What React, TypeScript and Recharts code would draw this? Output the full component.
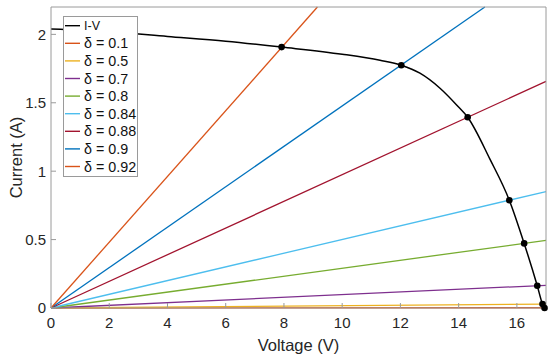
import React from 'react';
import { ComposedChart, Line, Scatter, XAxis, YAxis, Legend } from 'recharts';

const xTicks = [0, 2, 4, 6, 8, 10, 12, 14, 16];
const yTicks = [0, 0.5, 1, 1.5, 2];

// I-V characteristic
const ivVoltage = [0, 2, 4, 6, 7.92, 10, 11.3, 12.03, 12.67, 13.36, 13.93, 14.31, 15.07, 15.74, 16.25, 16.7, 16.88, 16.95];
const ivCurrent = [2.04, 2.02, 1.985, 1.95, 1.907, 1.855, 1.81, 1.774, 1.716, 1.606, 1.484, 1.394, 1.09, 0.788, 0.472, 0.163, 0.029, 0];

// load lines for each duty cycle (from origin to end point)
const dutyLabels = ['δ = 0.1', 'δ = 0.5', 'δ = 0.7', 'δ = 0.8', 'δ = 0.84', 'δ = 0.88', 'δ = 0.9', 'δ = 0.92'];
const dutyColors = ['#D95319', '#EDB120', '#7E2F8E', '#77AC30', '#4DBEEE', '#A2142F', '#0072BD', '#D95319'];
const dutyEndVoltage = [17, 17, 17, 17, 17, 17, 14.9, 9.15];
const dutyEndCurrent = [0.002, 0.029, 0.166, 0.494, 0.851, 1.656, 2.2, 2.2];

// operating points
const opVoltage = [16.95, 16.88, 16.7, 16.25, 15.74, 14.31, 12.03, 7.92];
const opCurrent = [0, 0.029, 0.163, 0.472, 0.788, 1.394, 1.774, 1.907];

const ivData = ivVoltage.map((v, k) => ({ v, i: ivCurrent[k] }));
const dutyData = dutyLabels.map((_, k) => [
  { v: 0, i: 0 },
  { v: dutyEndVoltage[k], i: dutyEndCurrent[k] },
]);
const opData = opVoltage.map((v, k) => ({ v, i: opCurrent[k] }));

const FONT = '"Liberation Sans", Arial, Helvetica, sans-serif';
const AXIS = '#9a9a9a';
const TEXT = '#262626';

const legendItems = [{ label: 'I-V', color: '#000000' }].concat(
  dutyLabels.map((label, k) => ({ label, color: dutyColors[k] }))
);

const LEG_W = 75;
const LEG_H = 161;
const ROW = 17.6;
const FIRST = 9.7;

const renderLegend = () => (
  <svg width={LEG_W} height={LEG_H} style={{ display: 'block', overflow: 'visible' }}>
    <rect x={0.5} y={0.5} width={LEG_W - 1} height={LEG_H - 1} fill="#fff" stroke={AXIS} />
    {legendItems.map((it, k) => {
      const y = FIRST + k * ROW;
      return (
        <g key={k}>
          <line x1={2} x2={17} y1={y} y2={y} stroke={it.color} strokeWidth={1.4} />
          <text
            x={21}
            y={y}
            dy="0.35em"
            fontSize={k === 0 ? 12.5 : 14.3}
            fill="#111"
            fontFamily={FONT}
          >
            {it.label}
          </text>
        </g>
      );
    })}
  </svg>
);

const YLabel = () => (
  <text
    x={22}
    y={157.5}
    transform="rotate(-90, 22, 157.5)"
    textAnchor="middle"
    fontSize={16.5}
    fill={TEXT}
    fontFamily={FONT}
  >
    Current (A)
  </text>
);

export default function App() {
  return (
    <div style={{ position: 'absolute', left: 0, top: 0, background: '#fff' }}>
      <ComposedChart
        width={550}
        height={357}
        margin={{ top: 6, right: 3, bottom: 0, left: 11 }}
        style={{ fontFamily: FONT }}
      >
        <XAxis
          xAxisId={0}
          dataKey="v"
          type="number"
          domain={[0, 17]}
          ticks={xTicks}
          interval={0}
          height={49}
          tickSize={-5}
          tickMargin={14}
          axisLine={{ stroke: AXIS }}
          tickLine={{ stroke: AXIS }}
          tick={{ fontSize: 15, fill: TEXT, fontFamily: FONT }}
          label={{ value: 'Voltage (V)', position: 'insideBottom', offset: 6, fontSize: 16.5, fill: TEXT, fontFamily: FONT }}
        />
        <XAxis
          xAxisId="top"
          orientation="top"
          type="number"
          domain={[0, 17]}
          ticks={xTicks}
          interval={0}
          height={1}
          tickSize={-5}
          tick={false}
          axisLine={{ stroke: AXIS }}
          tickLine={{ stroke: AXIS }}
        />
        <YAxis
          yAxisId={0}
          dataKey="i"
          type="number"
          domain={[0, 2.2]}
          ticks={yTicks}
          interval={0}
          width={40}
          tickSize={-5}
          tickMargin={10}
          axisLine={{ stroke: AXIS }}
          tickLine={{ stroke: AXIS }}
          tick={{ fontSize: 15, fill: TEXT, fontFamily: FONT }}
          label={<YLabel />}
        />
        <YAxis
          yAxisId="right"
          orientation="right"
          type="number"
          domain={[0, 2.2]}
          ticks={yTicks}
          interval={0}
          width={1}
          tickSize={-5}
          tick={false}
          axisLine={{ stroke: AXIS }}
          tickLine={{ stroke: AXIS }}
        />
        <Line
          data={ivData}
          dataKey="i"
          name="I-V"
          type="monotone"
          stroke="#000"
          strokeWidth={1.5}
          dot={false}
          activeDot={false}
          isAnimationActive={false}
        />
        {dutyData.map((d, k) => (
          <Line
            key={k}
            data={d}
            dataKey="i"
            name={dutyLabels[k]}
            type="linear"
            stroke={dutyColors[k]}
            strokeWidth={1.3}
            dot={false}
            activeDot={false}
            isAnimationActive={false}
          />
        ))}
        <Scatter
          data={opData}
          dataKey="i"
          fill="#000"
          isAnimationActive={false}
          shape={(p: any) => <circle cx={p.cx} cy={p.cy} r={3.3} fill="#000" />}
        />
        <Legend
          layout="vertical"
          align="center"
          verticalAlign="middle"
          content={renderLegend}
          wrapperStyle={{ left: 63, top: 16, width: LEG_W, height: LEG_H }}
        />
      </ComposedChart>
    </div>
  );
}
